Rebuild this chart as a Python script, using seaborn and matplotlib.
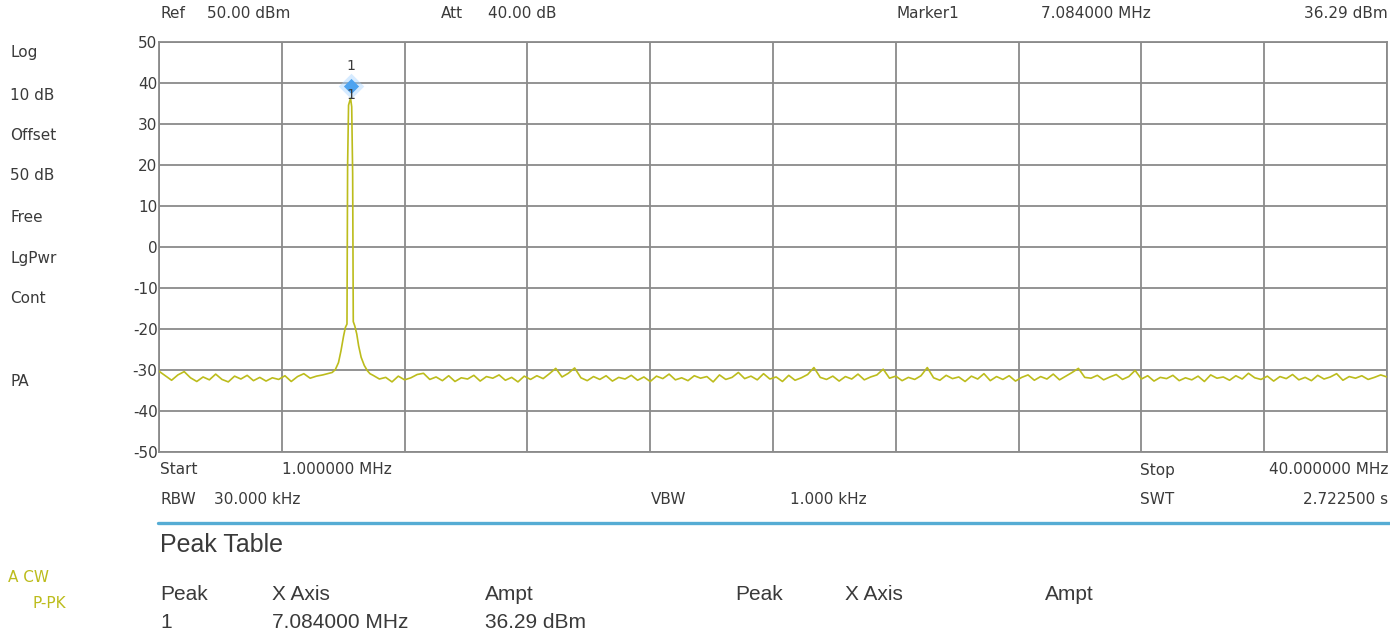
import numpy as np
import pandas as pd
import seaborn as sns
import matplotlib.pyplot as plt
from matplotlib import transforms
from matplotlib.lines import Line2D

# trace data (MHz, dBm)
left_freq = [1.0, 1.2, 1.4, 1.6, 1.8, 2.0, 2.2, 2.4, 2.6, 2.8, 3.0, 3.2, 3.4, 3.6,
             3.8, 4.0, 4.2, 4.4, 4.6, 4.8, 5.0, 5.2, 5.4, 5.6, 5.8, 6.0, 6.2, 6.4]
left_level = [-30.3, -31.4, -32.5, -31.2, -30.4, -31.9, -32.8, -31.7, -32.4, -31.0,
              -32.3, -32.9, -31.5, -32.2, -31.3, -32.6, -31.8, -32.7, -31.9, -32.3,
              -31.4, -32.8, -31.6, -30.9, -32.0, -31.5, -31.2, -30.8]

peak_freq = [6.5, 6.6, 6.7, 6.78, 6.86, 6.92, 6.97, 6.99, 7.02, 7.084,
             7.12, 7.15, 7.17, 7.22, 7.28, 7.34, 7.42, 7.52, 7.62, 7.7]
peak_level = [-30.6, -29.9, -28.2, -25.3, -21.8, -19.6, -18.8, 20.0, 34.6, 36.29,
              34.2, 18.0, -18.2, -19.3, -21.2, -24.1, -26.9, -28.9, -30.2, -30.9]

right_freq = [7.8, 8.0, 8.2, 8.4, 8.6, 8.8, 9.0, 9.2, 9.4, 9.6,
              9.8, 10.0, 10.2, 10.4, 10.6, 10.8, 11.0, 11.2, 11.4, 11.6,
              11.8, 12.0, 12.2, 12.4, 12.6, 12.8, 13.0, 13.2, 13.4, 13.6,
              13.8, 14.0, 14.2, 14.4, 14.6, 14.8, 15.0, 15.2, 15.4, 15.6,
              15.8, 16.0, 16.2, 16.4, 16.6, 16.8, 17.0, 17.2, 17.4, 17.6,
              17.8, 18.0, 18.2, 18.4, 18.6, 18.8, 19.0, 19.2, 19.4, 19.6,
              19.8, 20.0, 20.2, 20.4, 20.6, 20.8, 21.0, 21.2, 21.4, 21.6,
              21.8, 22.0, 22.2, 22.4, 22.6, 22.8, 23.0, 23.2, 23.4, 23.6,
              23.8, 24.0, 24.2, 24.4, 24.6, 24.8, 25.0, 25.2, 25.4, 25.6,
              25.8, 26.0, 26.2, 26.4, 26.6, 26.8, 27.0, 27.2, 27.4, 27.6,
              27.8, 28.0, 28.2, 28.4, 28.6, 28.8, 29.0, 29.2, 29.4, 29.6,
              29.8, 30.0, 30.2, 30.4, 30.6, 30.8, 31.0, 31.2, 31.4, 31.6,
              31.8, 32.0, 32.2, 32.4, 32.6, 32.8, 33.0, 33.2, 33.4, 33.6,
              33.8, 34.0, 34.2, 34.4, 34.6, 34.8, 35.0, 35.2, 35.4, 35.6,
              35.8, 36.0, 36.2, 36.4, 36.6, 36.8, 37.0, 37.2, 37.4, 37.6,
              37.8, 38.0, 38.2, 38.4, 38.6, 38.8, 39.0, 39.2, 39.4, 39.6,
              39.8, 40.0]
right_level = [-31.3, -32.2, -31.8, -32.9, -31.5, -32.4, -31.9, -31.1, -30.8, -32.3,
               -31.7, -32.6, -31.4, -32.8, -31.9, -32.2, -31.3, -32.7, -31.6, -32.0,
               -31.2, -32.5, -31.8, -32.9, -31.5, -32.3, -31.4, -32.1, -30.9, -29.6,
               -31.7, -30.8, -29.5, -31.9, -32.6, -31.6, -32.3, -31.4, -32.7, -31.8,
               -32.2, -31.3, -32.5, -31.7, -32.8, -31.5, -32.1, -31.0, -32.4, -31.9,
               -32.6, -31.4, -32.0, -31.6, -32.9, -31.2, -32.3, -31.8, -30.6, -32.1,
               -31.5, -32.4, -30.9, -32.2, -31.7, -32.8, -31.3, -32.5, -31.9, -31.1,
               -29.4, -31.8, -32.3, -31.5, -32.7, -31.6, -32.2, -31.0, -32.4, -31.7,
               -31.2, -29.8, -32.0, -31.5, -32.6, -31.8, -32.3, -31.4, -29.4, -31.9,
               -32.5, -31.3, -32.1, -31.7, -32.8, -31.5, -32.2, -30.9, -32.6, -31.6,
               -32.3, -31.4, -32.7, -31.8, -31.2, -32.5, -31.6, -32.2, -31.0, -32.4,
               -31.5, -30.6, -29.6, -31.8, -32.0, -31.3, -32.4, -31.7, -31.1, -32.3,
               -31.6, -30.1, -32.2, -31.4, -32.7, -31.8, -32.1, -31.3, -32.6, -31.9,
               -32.4, -31.5, -32.8, -31.2, -32.0, -31.7, -32.5, -31.4, -32.2, -30.8,
               -31.9, -32.3, -31.5, -32.7, -31.6, -32.1, -31.1, -32.4, -31.8, -32.6,
               -31.3, -32.2, -31.7, -30.9, -32.5, -31.6, -32.0, -31.4, -32.3, -31.8,
               -31.2, -31.7]

marker_freq = 7.084
marker_level = 36.29
y_ticks = [-50, -40, -30, -20, -10, 0, 10, 20, 30, 40, 50]

W, H = 1390, 636
TRACE = '#bcbc1c'
TXT = '#3a3a3a'
GRID = '#8a8a8a'

sns.set_style("white")
plt.rcParams['font.family'] = ['DejaVu Sans']
plt.rcParams['axes.unicode_minus'] = False

df = pd.DataFrame({'freq_mhz': left_freq + peak_freq + right_freq,
                   'level_dbm': left_level + peak_level + right_level})

fig = plt.figure(figsize=(W / 100, H / 100), dpi=100)
ax = fig.add_axes([159 / W, 1 - 452 / H, (1387 - 159) / W, (452 - 42) / H])

sns.lineplot(data=df, x='freq_mhz', y='level_dbm', ax=ax, color=TRACE,
             linewidth=1.2, estimator=None, zorder=3)

ax.set_xlim(1, 40)
ax.set_ylim(-50, 50)
ax.set_xticks(np.linspace(1, 40, 11))
ax.set_xticklabels([])
ax.set_yticks(y_ticks)
ax.tick_params(axis='both', length=0, colors=TXT, labelsize=11, pad=1)
ax.grid(True, color=GRID, linewidth=1.3)
ax.set_xlabel('')
ax.set_ylabel('')
for s in ax.spines.values():
    s.set_color(GRID)
    s.set_linewidth(1.3)

# marker 1 with glow
off = transforms.offset_copy(ax.transData, fig=fig, x=0, y=8.5, units='points')
ax.scatter([marker_freq], [marker_level], marker='D', s=170, color='#a6d4ff',
           alpha=0.45, transform=off, zorder=5, linewidths=0)
ax.scatter([marker_freq], [marker_level], marker='D', s=60, color='#4da3f0',
           transform=off, zorder=6, linewidths=0)
ax.annotate('1', (marker_freq, marker_level), xytext=(0, 23), textcoords='offset points',
            ha='center', va='center', fontsize=10, color=TXT, zorder=7)
ax.annotate('1', (marker_freq, marker_level), xytext=(0, 2), textcoords='offset points',
            ha='center', va='center', fontsize=10, color=TXT, zorder=7)


def put(x, y, s, ha='left', size=11, color=TXT, family=None):
    fig.text(x / W, 1 - y / H, s, ha=ha, va='center', fontsize=size, color=color,
             family=family)


# header line
put(160, 14, 'Ref')
put(207, 14, '50.00 dBm')
put(441, 14, 'Att')
put(488, 14, '40.00 dB')
put(897, 14, 'Marker1')
put(1041, 14, '7.084000 MHz')
put(1388, 14, '36.29 dBm', ha='right')

# left side settings
for label, yy in [('Log', 53), ('10 dB', 95), ('Offset', 135), ('50 dB', 176),
                  ('Free', 217), ('LgPwr', 258), ('Cont', 299), ('PA', 381)]:
    put(10, yy, label)
put(8, 578, 'A CW', color=TRACE)
put(33, 604, 'P-PK', color=TRACE)

# footer
put(160, 470, 'Start')
put(282, 470, '1.000000 MHz')
put(1140, 470, 'Stop')
put(1388, 470, '40.000000 MHz', ha='right')
put(160, 499, 'RBW')
put(300, 499, '30.000 kHz', ha='right')
put(651, 499, 'VBW')
put(790, 499, '1.000 kHz')
put(1140, 499, 'SWT')
put(1388, 499, '2.722500 s', ha='right')

fig.add_artist(Line2D([158 / W, 1], [1 - 523 / H, 1 - 523 / H], color='#55acd4',
                      linewidth=2.4, transform=fig.transFigure))

put(160, 545, 'Peak Table', size=18, family='Liberation Sans')
for label, xx in [('Peak', 160), ('X Axis', 272), ('Ampt', 485),
                  ('Peak', 735), ('X Axis', 845), ('Ampt', 1045)]:
    put(xx, 595, label, size=15, family='Liberation Sans')
put(160, 622, '1', size=15, family='Liberation Sans')
put(272, 622, '7.084000 MHz', size=15, family='Liberation Sans')
put(485, 622, '36.29 dBm', size=15, family='Liberation Sans')

fig.savefig('out.png', dpi=100, facecolor='white')
